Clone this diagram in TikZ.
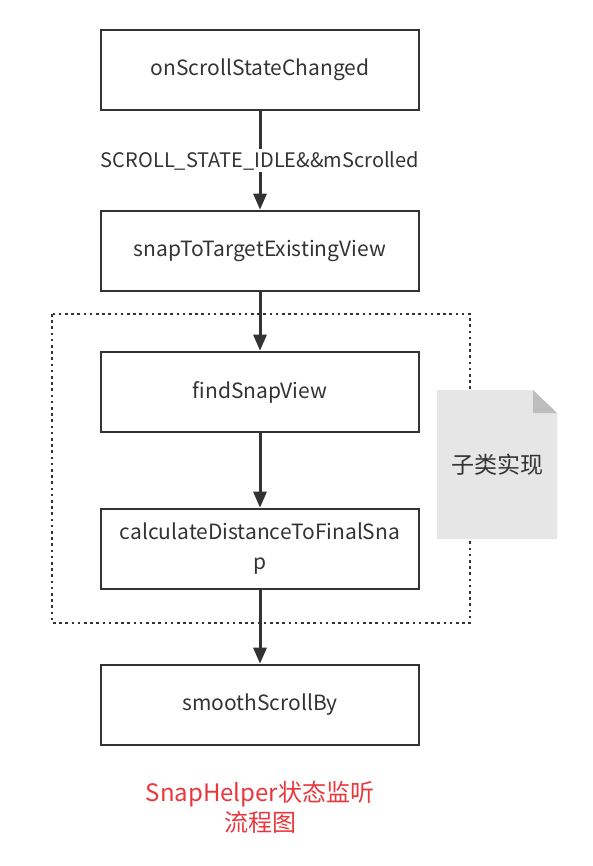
\documentclass[tikz,border=0pt]{standalone}
\usepackage{fontspec}
\setmainfont{Noto Sans CJK SC}
\usetikzlibrary{arrows.meta}
\definecolor{boxc}{HTML}{333333}
\definecolor{txtc}{HTML}{333333}
\definecolor{docfill}{HTML}{E6E6E6}
\definecolor{foldc}{HTML}{BDBDBD}
\definecolor{redt}{HTML}{E8383D}
\begin{document}
\begin{tikzpicture}[x=1pt,y=-1pt,
  stepbox/.style={draw=boxc, line width=2.6pt, minimum width=318pt, minimum height=80pt,
    inner sep=0pt, text=txtc, align=center, font=\fontsize{21}{30}\selectfont},
  flow/.style={-{Triangle[length=16pt,width=13pt]}, line width=3pt, draw=boxc},
  groupbox/.style={draw=boxc, line width=2.6pt, dash pattern=on 2.6pt off 3.6pt}]
\useasboundingbox (0,0) rectangle (593,866);
\node[stepbox] (a) at (260,70) {onScrollStateChanged};
\node[stepbox] (b) at (260,251) {snapToTargetExistingView};
\draw[groupbox] (52,314) rectangle (470,623);
\node[stepbox] (c) at (260,392) {findSnapView};
\node[stepbox] (d) at (260,549) {calculateDistanceToFinalSna\\p};
\node[stepbox] (e) at (260,705) {smoothScrollBy};
\draw[flow] (a) -- node[fill=white, text=txtc, inner sep=2pt, font=\fontsize{20}{24}\selectfont] (lbl) {SCROLL\_STATE\_IDLE\&\&mScrolled} (b);
\draw[flow] (b) -- (c);
\draw[flow] (c) -- (d);
\draw[flow] (d) -- (e);
\fill[docfill] (437,390) -- (533,390) -- (557,413) -- (557,539) -- (437,539) -- cycle;
\fill[foldc] (533,390) -- (557,413) -- (533,413) -- cycle;
\node[text=txtc, font=\fontsize{23}{26}\selectfont] (note) at (497,465) {子类实现};
\node[text=redt, align=center, font=\fontsize{24}{30}\selectfont] (title) at (260,807) {SnapHelper状态监听\\流程图};
\end{tikzpicture}
\end{document}
